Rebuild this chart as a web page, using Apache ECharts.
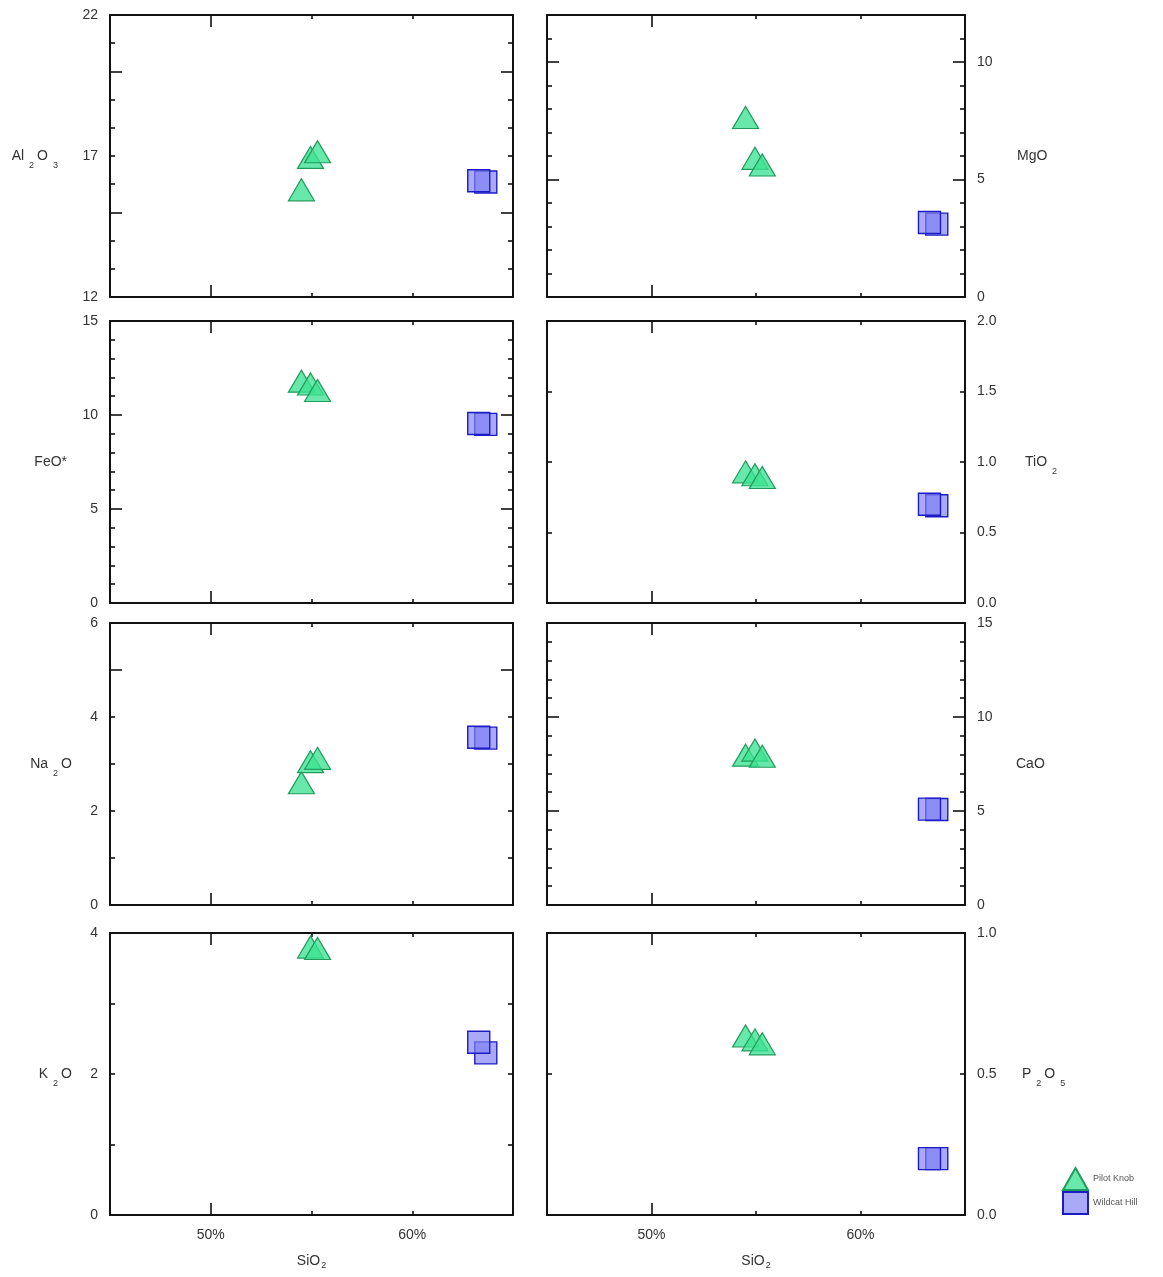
<!DOCTYPE html>
<html>
<head>
<meta charset="utf-8">
<title>Pilot Knob and Wildcat Hill – major oxides vs SiO2</title>
<script src="https://cdn.jsdelivr.net/npm/echarts@6/dist/echarts.min.js"></script>
<style>
  html, body { margin: 0; padding: 0; background: #fff; }
  #chart { width: 1163px; height: 1277px; }
</style>
</head>
<body>
<div id="chart"></div>
<script>
// Sample groups
const groups = ['Pilot Knob', 'Wildcat Hill'];

// SiO2 (wt %) of each sample, shared by every panel
const sio2Pilot = [54.5, 54.95, 55.3];
const sio2Wildcat = [63.65, 63.3];

// Oxide values (wt %) in the same sample order
const al2o3Pilot = [15.8, 16.95, 17.15];
const al2o3Wildcat = [16.08, 16.12];
const mgoPilot = [7.64, 5.9, 5.62];
const mgoWildcat = [3.1, 3.17];
const feoPilot = [11.8, 11.65, 11.3];
const feoWildcat = [9.5, 9.55];
const tio2Pilot = [0.93, 0.91, 0.89];
const tio2Wildcat = [0.69, 0.70];
const na2oPilot = [2.6, 3.05, 3.12];
const na2oWildcat = [3.55, 3.57];
const caoPilot = [7.97, 8.24, 7.91];
const caoWildcat = [5.08, 5.1];
const k2oPilot = [null, 3.8, 3.78];
const k2oWildcat = [2.3, 2.45];
const p2o5Pilot = [0.635, 0.621, 0.607];
const p2o5Wildcat = [0.2, 0.2];

// SiO2 axis
const sio2Range = [45, 65];
const sio2Labels = [50, 60];
const sio2MajorTicks = [50];
const sio2MinorTicks = [55, 60];

// Per-panel axis settings (row-major, two columns)
const panels = [
  { name: 'Al{s|2}O{s|3}', gap: 49, min: 12, max: 22, labels: [12, 17, 22], major: [15, 20], minor: [13, 14, 16, 17, 18, 19, 21], pilot: al2o3Pilot, wildcat: al2o3Wildcat },
  { name: 'MgO', gap: 52, min: 0, max: 12, labels: [0, 5, 10], major: [5, 10], minor: [1, 2, 3, 4, 6, 7, 8, 9, 11], pilot: mgoPilot, wildcat: mgoWildcat },
  { name: 'FeO*', gap: 43, min: 0, max: 15, labels: [0, 5, 10, 15], major: [5, 10], minor: [1, 2, 3, 4, 6, 7, 8, 9, 11, 12, 13, 14], pilot: feoPilot, wildcat: feoWildcat },
  { name: 'TiO{s|2}', gap: 60, min: 0, max: 2, labels: [0, 0.5, 1, 1.5, 2], major: [], minor: [0.5, 1, 1.5], decimals: 1, pilot: tio2Pilot, wildcat: tio2Wildcat },
  { name: 'Na{s|2}O', gap: 38, min: 0, max: 6, labels: [0, 2, 4, 6], major: [5], minor: [1, 2, 3, 4], pilot: na2oPilot, wildcat: na2oWildcat },
  { name: 'CaO', gap: 51, min: 0, max: 15, labels: [0, 5, 10, 15], major: [5, 10], minor: [1, 2, 3, 4, 6, 7, 8, 9, 11, 12, 13, 14], pilot: caoPilot, wildcat: caoWildcat },
  { name: 'K{s|2}O', gap: 38, min: 0, max: 4, labels: [0, 2, 4], major: [], minor: [1, 2, 3], pilot: k2oPilot, wildcat: k2oWildcat },
  { name: 'P{s|2}O{s|5}', gap: 57, min: 0, max: 1, labels: [0, 0.5, 1], major: [], minor: [0.5], decimals: 1, pilot: p2o5Pilot, wildcat: p2o5Wildcat }
];

const FONT = '"Liberation Sans", Arial, Helvetica, sans-serif';
const TEXT = '#333';
const INK = '#111';
const colLeft = [110, 547];
const colWidth = [403, 418];
const rowTop = [15, 321, 623, 933];
const rowHeight = 282;

const lineStyle = { color: INK, width: 2 };
const tickStyle = { color: INK, width: 1.6 };
const subRich = { s: { fontSize: 9, padding: [20, 3, 0, 5], fontFamily: FONT, color: TEXT } };

const grids = [];
const xAxes = [];
const yAxes = [];
const series = [];

function pairs(xs, ys) {
  const out = [];
  xs.forEach((x, k) => { if (ys[k] != null) out.push([x, ys[k]]); });
  return out;
}

panels.forEach((p, i) => {
  const col = i % 2;
  const row = Math.floor(i / 2);
  const isBottom = row === 3;
  grids.push({ left: colLeft[col], top: rowTop[row], width: colWidth[col], height: rowHeight, containLabel: false });

  // SiO2 axes: bottom and top, each with a short-tick and a long-tick layer
  const xBase = { type: 'value', gridIndex: i, min: sio2Range[0], max: sio2Range[1], splitLine: { show: false } };
  const xMain = xAxes.length;
  xAxes.push(Object.assign({}, xBase, {
    position: 'bottom',
    axisLine: { show: true, onZero: false, lineStyle },
    axisTick: { show: true, inside: true, length: 4, customValues: sio2MinorTicks, lineStyle: tickStyle },
    axisLabel: { show: isBottom, customValues: sio2Labels, formatter: '{value}%', margin: 13, fontSize: 14, color: TEXT, fontFamily: FONT },
    name: isBottom ? 'SiO{t|2}' : '',
    nameLocation: 'middle',
    nameGap: 37,
    nameTextStyle: { fontSize: 14, color: TEXT, fontFamily: FONT, rich: { t: { fontSize: 9, padding: [9, 0, 0, 1], color: TEXT, fontFamily: FONT } } }
  }));
  xAxes.push(Object.assign({}, xBase, {
    position: 'bottom',
    axisLine: { show: false, onZero: false },
    axisTick: { show: true, inside: true, length: 12, customValues: sio2MajorTicks, lineStyle: tickStyle },
    axisLabel: { show: false }
  }));
  xAxes.push(Object.assign({}, xBase, {
    position: 'top',
    axisLine: { show: true, onZero: false, lineStyle },
    axisTick: { show: true, inside: true, length: 4, customValues: sio2MinorTicks, lineStyle: tickStyle },
    axisLabel: { show: false }
  }));
  xAxes.push(Object.assign({}, xBase, {
    position: 'top',
    axisLine: { show: false, onZero: false },
    axisTick: { show: true, inside: true, length: 12, customValues: sio2MajorTicks, lineStyle: tickStyle },
    axisLabel: { show: false }
  }));

  // Oxide axes: labelled side is left for the left column, right for the right column
  const labelSide = col === 0 ? 'left' : 'right';
  const otherSide = col === 0 ? 'right' : 'left';
  const yBase = { type: 'value', gridIndex: i, min: p.min, max: p.max, splitLine: { show: false } };
  const fmt = (v) => p.decimals ? v.toFixed(p.decimals) : String(v);
  const yMain = yAxes.length;
  yAxes.push(Object.assign({}, yBase, {
    position: labelSide,
    axisLine: { show: true, onZero: false, lineStyle },
    axisTick: { show: true, inside: true, length: 5, customValues: p.minor, lineStyle: tickStyle },
    axisLabel: { show: true, customValues: p.labels, formatter: fmt, margin: 12, fontSize: 14, color: TEXT, fontFamily: FONT },
    name: p.name,
    nameLocation: 'middle',
    nameRotate: 0,
    nameGap: p.gap,
    nameTextStyle: { fontSize: 14, color: TEXT, fontFamily: FONT, rich: subRich }
  }));
  yAxes.push(Object.assign({}, yBase, {
    position: labelSide,
    axisLine: { show: false, onZero: false },
    axisTick: { show: p.major.length > 0, inside: true, length: 12, customValues: p.major.length ? p.major : [p.min], lineStyle: tickStyle },
    axisLabel: { show: false }
  }));
  yAxes.push(Object.assign({}, yBase, {
    position: otherSide,
    axisLine: { show: true, onZero: false, lineStyle },
    axisTick: { show: true, inside: true, length: 5, customValues: p.minor, lineStyle: tickStyle },
    axisLabel: { show: false }
  }));
  yAxes.push(Object.assign({}, yBase, {
    position: otherSide,
    axisLine: { show: false, onZero: false },
    axisTick: { show: p.major.length > 0, inside: true, length: 12, customValues: p.major.length ? p.major : [p.min], lineStyle: tickStyle },
    axisLabel: { show: false }
  }));

  series.push({
    name: groups[0],
    type: 'scatter',
    xAxisIndex: xMain,
    yAxisIndex: yMain,
    symbol: 'triangle',
    symbolSize: [26, 22],
    itemStyle: { color: 'rgba(62,226,146,0.78)', borderColor: '#1f9c5c', borderWidth: 1.2, opacity: 1 },
    emphasis: { disabled: true },
    data: pairs(sio2Pilot, p.pilot)
  });
  series.push({
    name: groups[1],
    type: 'scatter',
    xAxisIndex: xMain,
    yAxisIndex: yMain,
    symbol: 'rect',
    symbolSize: [22, 22],
    itemStyle: { color: 'rgba(128,128,244,0.68)', borderColor: '#1c1cc4', borderWidth: 1.4, opacity: 1 },
    emphasis: { disabled: true },
    data: pairs(sio2Wildcat, p.wildcat)
  });
});

const chart = echarts.init(document.getElementById('chart'), null, { renderer: 'canvas' });
chart.setOption({
  backgroundColor: '#ffffff',
  animation: false,
  textStyle: { fontFamily: FONT },
  grid: grids,
  xAxis: xAxes,
  yAxis: yAxes,
  legend: {
    data: groups,
    orient: 'vertical',
    left: 1057,
    top: 1162,
    itemWidth: 25,
    itemHeight: 22,
    itemGap: 0,
    textStyle: { fontSize: 9, color: '#555', fontFamily: FONT },
    selectedMode: false
  },
  series
});
</script>
</body>
</html>
